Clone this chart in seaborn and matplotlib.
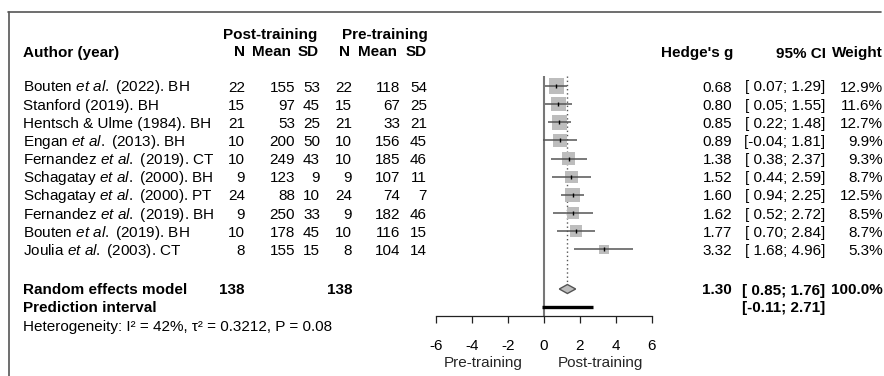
import numpy as np
import matplotlib
matplotlib.use("Agg")
import matplotlib.pyplot as plt
import matplotlib.transforms as mtransforms
from matplotlib.lines import Line2D
import seaborn as sns

# ---------------- data ----------------
authors = ["Bouten $\\mathit{et\\ al.}$ (2022). BH",
           "Stanford (2019). BH",
           "Hentsch & Ulme (1984). BH",
           "Engan $\\mathit{et\\ al.}$ (2013). BH",
           "Fernandez $\\mathit{et\\ al.}$ (2019). CT",
           "Schagatay $\\mathit{et\\ al.}$ (2000). BH",
           "Schagatay $\\mathit{et\\ al.}$ (2000). PT",
           "Fernandez $\\mathit{et\\ al.}$ (2019). BH",
           "Bouten $\\mathit{et\\ al.}$ (2019). BH",
           "Joulia $\\mathit{et\\ al.}$ (2003). CT"]
post_n = [22, 15, 21, 10, 10, 9, 24, 9, 10, 8]
post_mean = [155, 97, 53, 200, 249, 123, 88, 250, 178, 155]
post_sd = [53, 45, 25, 50, 43, 9, 10, 33, 45, 15]
pre_n = [22, 15, 21, 10, 10, 9, 24, 9, 10, 8]
pre_mean = [118, 67, 33, 156, 185, 107, 74, 182, 116, 104]
pre_sd = [54, 25, 21, 45, 46, 11, 7, 46, 15, 14]
hedges_g = [0.68, 0.80, 0.85, 0.89, 1.38, 1.52, 1.60, 1.62, 1.77, 3.32]
ci_lo = [0.07, 0.05, 0.22, -0.04, 0.38, 0.44, 0.94, 0.52, 0.70, 1.68]
ci_hi = [1.29, 1.55, 1.48, 1.81, 2.37, 2.59, 2.25, 2.72, 2.84, 4.96]
weight = [12.9, 11.6, 12.7, 9.9, 9.3, 8.7, 12.5, 8.5, 8.7, 5.3]

re_n_post = 138
re_n_pre = 138
re_g = 1.30
re_lo = 0.85
re_hi = 1.76
re_weight = 100.0
pi_lo = -0.11
pi_hi = 2.71
heterogeneity = "Heterogeneity: I\u00b2 = 42%, \u03c4\u00b2 = 0.3212, P = 0.08"
xticks = [-6, -4, -2, 0, 2, 4, 6]
left_label = "Pre-training"
right_label = "Post-training"

# ---------------- style ----------------
sns.set_theme(style="white")
plt.rcParams['font.family'] = ['Liberation Sans', 'DejaVu Sans']
plt.rcParams['mathtext.fontset'] = 'custom'
plt.rcParams['mathtext.rm'] = 'Liberation Sans'
plt.rcParams['mathtext.it'] = 'Liberation Sans:italic'
plt.rcParams['mathtext.bf'] = 'Liberation Sans:bold'

W, H = 884, 376
FS = 11
fig = plt.figure(figsize=(W / 100, H / 100), dpi=100)
fig.patch.set_facecolor('white')
ax = fig.add_axes([0, 0, 1, 1])
ax.set_facecolor('none')

# pixel layout of the forest panel
x0_px, unit_px = 544, 18.0
ax.set_xlim(-x0_px / unit_px, (W - x0_px) / unit_px)
ax.set_ylim(H, 0)
T = mtransforms.Affine2D().scale(1, -1).translate(0, H)  # pixel (top-left origin)

n = len(authors)
row0, step = 86.0, 18.15
rows = row0 + step * np.arange(n)
y_re = 289.0
y_pi = 306.5
y_het = 325.0
axis_y = 316.0
top_y = 76.0
base = 5.5  # center -> baseline

gray_box = '#bdbdbd'
line_col = '#555555'

# reference lines
ax.vlines(0, top_y, axis_y, color='#777777', lw=1.5, zorder=1)
ax.vlines(re_g, top_y, y_re - 4.5, color='#555555', lw=1.0, linestyles=(0, (1, 2)), zorder=1)

# squares
k = 9.06
sns.scatterplot(x=hedges_g, y=rows, size=weight, sizes=(k * min(weight), k * max(weight)),
                size_norm=(min(weight), max(weight)), marker='s', color=gray_box,
                linewidth=0, legend=False, ax=ax, zorder=2)
ax.hlines(rows, ci_lo, ci_hi, color=line_col, lw=1.1, zorder=3)
ax.scatter(hedges_g, rows, marker='|', s=9, color='black', linewidths=1.0, zorder=4)

# diamond
ax.fill([re_lo, re_g, re_hi, re_g], [y_re, y_re - 4.5, y_re, y_re + 4.5],
        facecolor=gray_box, edgecolor=line_col, lw=1.0, zorder=3)
# prediction interval
ax.hlines(y_pi, pi_lo, pi_hi, color='black', lw=2.4, zorder=3)

# axis
for s in ['top', 'right', 'left']:
    ax.spines[s].set_visible(False)
ax.spines['bottom'].set_position(('data', axis_y))
ax.spines['bottom'].set_bounds(min(xticks), max(xticks))
ax.spines['bottom'].set_color('#222222')
ax.spines['bottom'].set_linewidth(0.9)
ax.set_xticks(xticks)
ax.set_xticklabels([str(t) for t in xticks])
ax.tick_params(axis='x', direction='out', length=5.2, width=0.9, color='#222222',
               labelsize=FS, pad=11, bottom=True, labelcolor='black')
ax.set_yticks([])
ax.grid(False)
ax.text(-3.39, 366.5, left_label, ha='center', va='baseline', fontsize=FS)
ax.text(3.14, 366.5, right_label, ha='center', va='baseline', fontsize=FS)

# text columns
def txt(x, y, s, ha='right', bold=False):
    ax.text(x, y + base, s, transform=T, ha=ha, va='baseline', fontsize=FS,
            fontweight='bold' if bold else 'normal', color='black')

# headers
txt(23, 51, "Author (year)", ha='left', bold=True)
txt(317, 33, "Post-training", bold=True)
txt(428, 33, "Pre-training", bold=True)
for xr, s in [(245, "N"), (291, "Mean"), (319, "SD"), (350, "N"), (397, "Mean"), (427, "SD")]:
    txt(xr, 51, s, bold=True)
txt(733, 52, "Hedge's g", bold=True)
txt(826, 52, "95% CI", bold=True)
txt(883, 52, "Weight", bold=True)

def fmt_ci(lo, hi):
    a = f"{lo:.2f}"
    if lo >= 0:
        a = " " + a
    return f"[{a}; {hi:.2f}]"

for i in range(n):
    y = rows[i]
    txt(23, y, authors[i], ha='left')
    txt(245, y, str(post_n[i]))
    txt(295, y, str(post_mean[i]))
    txt(320, y, str(post_sd[i]))
    txt(352, y, str(pre_n[i]))
    txt(400, y, str(pre_mean[i]))
    txt(427, y, str(pre_sd[i]))
    txt(732, y, f"{hedges_g[i]:.2f}")
    txt(825, y, fmt_ci(ci_lo[i], ci_hi[i]))
    txt(883, y, f"{weight[i]:.1f}%")

txt(23, y_re, "Random effects model", ha='left', bold=True)
txt(245, y_re, str(re_n_post), bold=True)
txt(352, y_re, str(re_n_pre), bold=True)
txt(732, y_re, f"{re_g:.2f}", bold=True)
txt(825, y_re, fmt_ci(re_lo, re_hi), bold=True)
txt(883, y_re, f"{re_weight:.1f}%", bold=True)
txt(23, y_pi, "Prediction interval", ha='left', bold=True)
txt(825, y_pi, fmt_ci(pi_lo, pi_hi), bold=True)
txt(23, y_het, heterogeneity, ha='left')

# frame
fig.add_artist(Line2D([8, 881], [11.5, 11.5], transform=T, color='#555555', lw=1.2))
fig.add_artist(Line2D([8.5, 8.5], [11.5, H], transform=T, color='#555555', lw=1.2))

fig.savefig("out.png", dpi=100, facecolor='white')
